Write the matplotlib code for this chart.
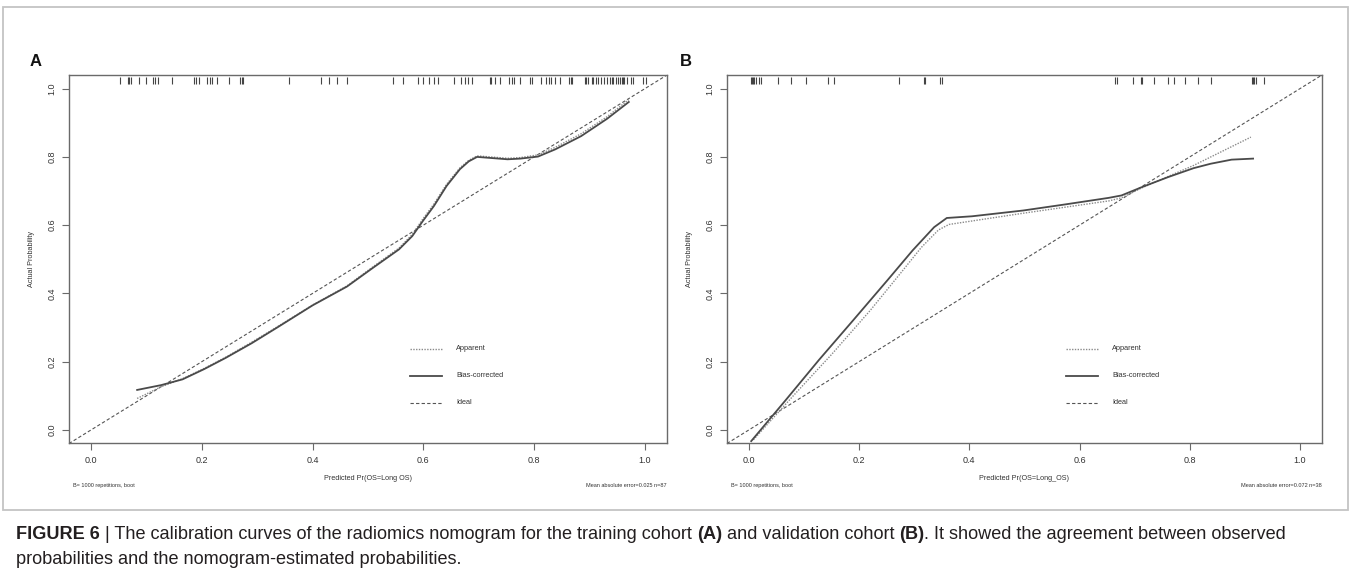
import numpy as np
import matplotlib
matplotlib.use("Agg")
import matplotlib.pyplot as plt
from matplotlib import font_manager
from matplotlib.patches import Rectangle

# fuentes: texto del gráfico estrecho si existe, pie de figura normal
names = {f.name for f in font_manager.fontManager.ttflist}
NARROW = 'Liberation Sans Narrow' if 'Liberation Sans Narrow' in names else 'Liberation Sans'
CAPFONT = 'Liberation Sans'

# ---- Cohorte de entrenamiento (A) ----
rug_a = [0.052, 0.066, 0.069, 0.072, 0.086, 0.099, 0.112, 0.116, 0.120, 0.146,
         0.185, 0.189, 0.194, 0.209, 0.214, 0.218, 0.228, 0.249, 0.269, 0.272,
         0.275, 0.357, 0.415, 0.430, 0.444, 0.462, 0.546, 0.564, 0.590, 0.600,
         0.611, 0.619, 0.627, 0.656, 0.668, 0.675, 0.680, 0.688, 0.721, 0.723,
         0.729, 0.738, 0.754, 0.760, 0.764, 0.775, 0.793, 0.797, 0.812, 0.821,
         0.826, 0.830, 0.838, 0.847, 0.863, 0.866, 0.869, 0.892, 0.894, 0.898,
         0.904, 0.907, 0.911, 0.915, 0.920, 0.926, 0.931, 0.937, 0.940, 0.943,
         0.948, 0.952, 0.955, 0.958, 0.960, 0.963, 0.967, 0.975, 0.979, 0.996,
         1.002]
pred_a = [0.083, 0.126, 0.165, 0.204, 0.243, 0.290, 0.337, 0.400, 0.462, 0.509,
          0.556, 0.580, 0.599, 0.619, 0.642, 0.666, 0.682, 0.697, 0.721, 0.752,
          0.775, 0.807, 0.838, 0.885, 0.932, 0.971]
bias_a = [0.117, 0.131, 0.148, 0.178, 0.211, 0.254, 0.301, 0.365, 0.420, 0.475,
          0.529, 0.568, 0.612, 0.656, 0.715, 0.764, 0.787, 0.800, 0.797, 0.793,
          0.795, 0.801, 0.822, 0.861, 0.912, 0.961]
app_a = [0.092, 0.126, 0.150, 0.180, 0.213, 0.257, 0.303, 0.366, 0.422, 0.478,
         0.533, 0.573, 0.618, 0.662, 0.720, 0.768, 0.790, 0.803, 0.800, 0.796,
         0.798, 0.806, 0.828, 0.868, 0.918, 0.968]

# ---- Cohorte de validación (B) ----
rug_b = [0.004, 0.006, 0.008, 0.009, 0.012, 0.018, 0.021, 0.052, 0.077, 0.103,
         0.143, 0.155, 0.273, 0.318, 0.320, 0.347, 0.350, 0.665, 0.668, 0.697,
         0.712, 0.714, 0.736, 0.761, 0.772, 0.792, 0.815, 0.838, 0.913, 0.915,
         0.917, 0.921, 0.935]
pred_bias_b = [0.004, 0.066, 0.127, 0.189, 0.251, 0.297, 0.336, 0.359, 0.405, 0.498,
               0.575, 0.653, 0.676, 0.714, 0.761, 0.807, 0.838, 0.876, 0.915]
bias_b = [-0.033, 0.086, 0.205, 0.321, 0.438, 0.526, 0.594, 0.621, 0.626, 0.643,
          0.661, 0.680, 0.687, 0.712, 0.741, 0.767, 0.780, 0.792, 0.795]
pred_app_b = [0.008, 0.081, 0.151, 0.220, 0.274, 0.313, 0.344, 0.363, 0.498, 0.653,
              0.676, 0.714, 0.807, 0.911]
app_b = [-0.029, 0.101, 0.223, 0.350, 0.457, 0.535, 0.586, 0.602, 0.635, 0.671,
         0.680, 0.710, 0.775, 0.858]

ticks = [0.0, 0.2, 0.4, 0.6, 0.8, 1.0]
tick_labels = ['0.0', '0.2', '0.4', '0.6', '0.8', '1.0']
legend_labels = ['Apparent', 'Bias-corrected', 'Ideal']

STY_APP = dict(color='#8a8a8a', lw=1.0, ls=(0, (1, 1)))
STY_BIAS = dict(color='#4a4a4a', lw=1.3, ls='-')
STY_IDEAL = dict(color='#555555', lw=0.8, ls=(0, (3, 2)))
TXT = '#333333'
SPINE = '#6a6a6a'


def calib_panel(ax, rug, xb, yb, xa, ya, xlabel, footer_r):
    ax.set_xlim(-0.04, 1.04)
    ax.set_ylim(-0.04, 1.04)
    ax.plot([-0.1, 1.1], [-0.1, 1.1], **STY_IDEAL)
    ax.plot(xa, ya, **STY_APP)
    ax.plot(xb, yb, **STY_BIAS)
    ax.vlines(rug, 1.014, 1.034, color='#444444', lw=0.8)

    ax.set_xticks(ticks)
    ax.set_xticklabels(tick_labels)
    ax.set_yticks(ticks)
    ax.set_yticklabels(tick_labels, rotation=90, va='center')
    ax.tick_params(direction='out', length=5, width=0.8, color=SPINE,
                   labelcolor=TXT, labelsize=6.5, pad=4)
    for lab in ax.get_xticklabels() + ax.get_yticklabels():
        lab.set_family(NARROW)
    for s in ax.spines.values():
        s.set_color(SPINE)
        s.set_linewidth(1.0)

    ax.set_xlabel(xlabel, fontsize=5.2, family=NARROW, color=TXT, labelpad=7)
    ax.set_ylabel('Actual Probability', fontsize=5.2, family=NARROW, color=TXT, labelpad=9)

    # leyenda dibujada a mano, como en rms::calibrate
    for i, (lab, sty) in enumerate(zip(legend_labels, [STY_APP, STY_BIAS, STY_IDEAL])):
        yy = 0.257 - i * 0.0735
        ax.plot([0.570, 0.623], [yy, yy], transform=ax.transAxes, **sty)
        ax.text(0.647, yy, lab, transform=ax.transAxes, fontsize=5.3,
                family=NARROW, color=TXT, va='center', ha='left')

    ax.text(0.006, -0.113, 'B= 1000 repetitions, boot', transform=ax.transAxes,
            fontsize=4.0, family=NARROW, color=TXT, ha='left', va='center')
    ax.text(1.0, -0.113, footer_r, transform=ax.transAxes,
            fontsize=4.0, family=NARROW, color=TXT, ha='right', va='center')


fig = plt.figure(figsize=(13.51, 5.78), dpi=100)
fig.patch.set_facecolor('white')

# marco gris alrededor de los dos paneles
fig.add_artist(Rectangle((3 / 1351, 1 - 510 / 578), 1345 / 1351, 503 / 578,
                         transform=fig.transFigure, fill=False,
                         edgecolor='#c4c4c4', lw=1.3))

ax_a = fig.add_axes([0.0511, 0.2327, 0.4426, 0.6375])
ax_b = fig.add_axes([0.5381, 0.2327, 0.4404, 0.6375])

calib_panel(ax_a, rug_a, pred_a, bias_a, pred_a, app_a,
            'Predicted Pr(OS=Long OS)', 'Mean absolute error=0.025 n=87')
calib_panel(ax_b, rug_b, pred_bias_b, bias_b, pred_app_b, app_b,
            'Predicted Pr(OS=Long_OS)', 'Mean absolute error=0.072 n=38')

fig.text(36 / 1351, 1 - 62 / 578, 'A', fontsize=12, weight='bold',
         family=CAPFONT, ha='center', va='center', color='#111111')
fig.text(686 / 1351, 1 - 62 / 578, 'B', fontsize=12, weight='bold',
         family=CAPFONT, ha='center', va='center', color='#111111')

# pie de figura con partes en negrita
cap = fig.add_axes([0, 0, 1, 1])
cap.axis('off')
cap.set_zorder(-1)


def rich_line(x, y, parts, size=13.1):
    prev = None
    for s, w in parts:
        kw = dict(fontsize=size, weight=w, family=CAPFONT, color='#231f20',
                  va='bottom', ha='left')
        if prev is None:
            prev = cap.annotate(s, xy=(x, y), xycoords='figure fraction', **kw)
        else:
            prev = cap.annotate(s, xy=(1, 0), xycoords=prev, **kw)


line1 = [('FIGURE 6', 'bold'),
         (' | The calibration curves of the radiomics nomogram for the training cohort ', 'normal'),
         ('(A)', 'bold'),
         (' and validation cohort ', 'normal'),
         ('(B)', 'bold'),
         ('. It showed the agreement between observed', 'normal')]
line2 = [('probabilities and the nomogram-estimated probabilities.', 'normal')]

rich_line(16 / 1351, 1 - 543 / 578, line1)
rich_line(16 / 1351, 1 - 568 / 578, line2)

fig.savefig('out.png', dpi=100)
